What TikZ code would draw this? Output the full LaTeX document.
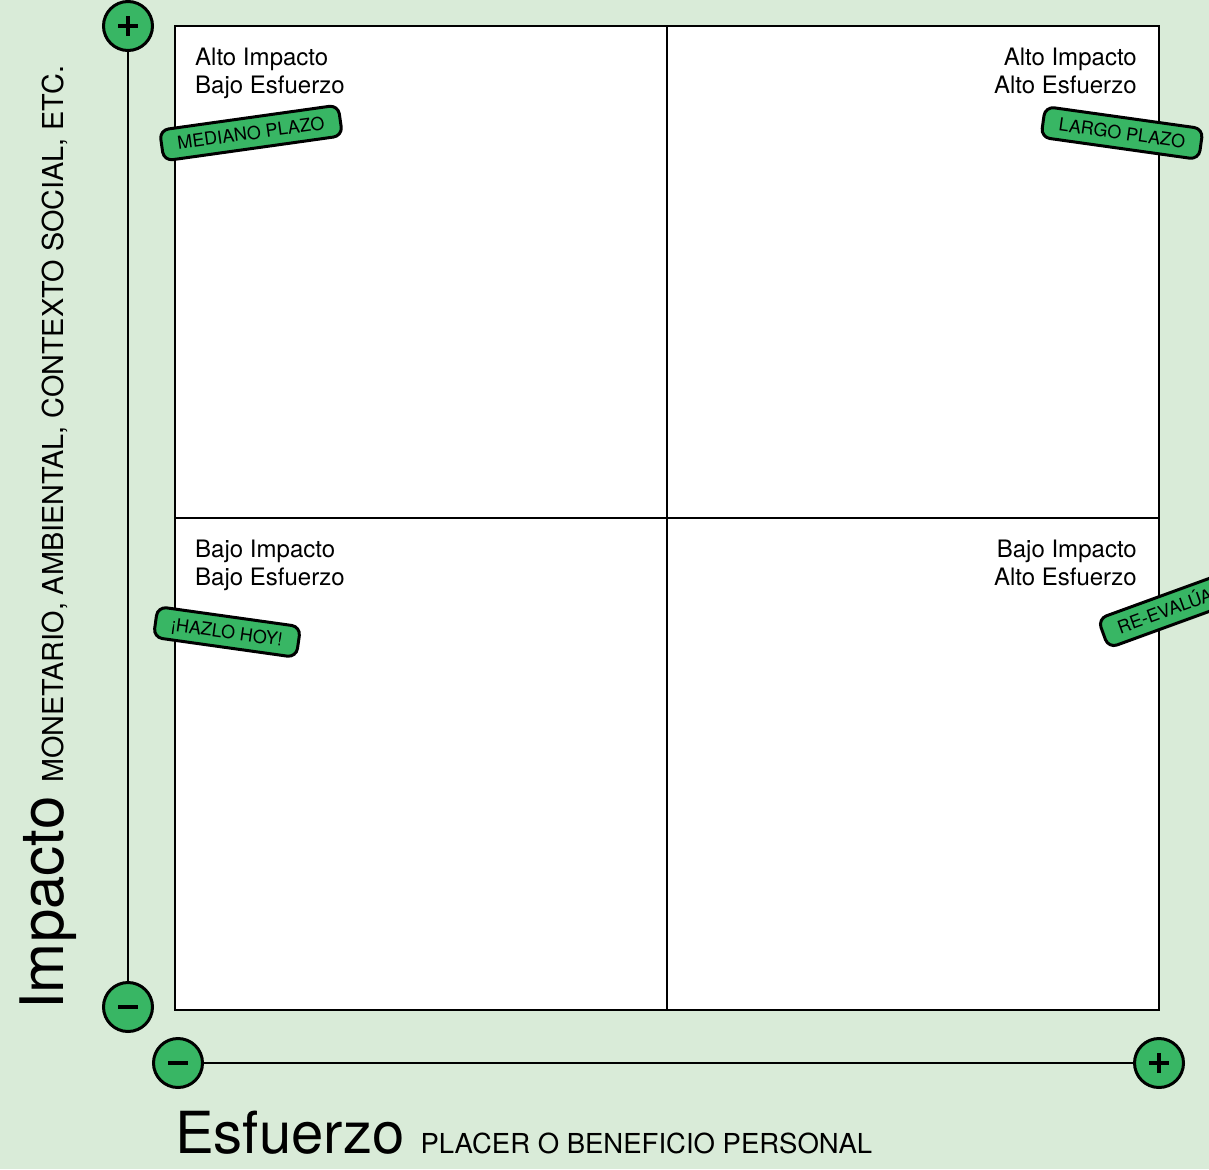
\documentclass[tikz,border=0pt]{standalone}
\usepackage{fontspec}
\setmainfont{TeX Gyre Heros}
\usetikzlibrary{positioning}

\definecolor{sage}{HTML}{D9EBD8}
\definecolor{leaf}{HTML}{38B664}

\tikzset{
	knob/.style={circle, draw, line width=3pt, fill=leaf, minimum size=49pt, inner sep=0pt},
	plusknob/.style={knob, path picture={
		\draw[line width=4pt] ([xshift=-10pt]path picture bounding box.center) -- ([xshift=10pt]path picture bounding box.center)
			([yshift=-10pt]path picture bounding box.center) -- ([yshift=10pt]path picture bounding box.center);}},
	minusknob/.style={knob, path picture={
		\draw[line width=4pt] ([xshift=-10pt]path picture bounding box.center) -- ([xshift=10pt]path picture bounding box.center);}},
	axis/.style={line width=2.5pt},
	grid/.style={line width=2.5pt},
	quad/.style={inner sep=0pt, font=\fontsize{24}{28}\selectfont},
	tag/.style={draw, line width=3pt, fill=leaf, rounded corners=9pt, inner xsep=16pt, inner ysep=0pt,
		minimum height=31pt, text height=13pt, text depth=0pt, font=\fontsize{18}{18}\selectfont},
	title/.style={inner sep=0pt, font=\fontsize{58}{58}\selectfont}
}
\newcommand{\subtitle}[2]{{\fontsize{#1}{#1}\selectfont #2}}

\begin{document}
\begin{tikzpicture}[x=1pt, y=-1pt]
	\useasboundingbox (0,0) rectangle (1209,1169);
	\clip (0,0) rectangle (1209,1169);
	\fill[sage] (0,0) rectangle (1209,1169);

	% matrix of four quadrants
	\coordinate (nw) at (175,26); \coordinate (se) at (1159,1010); \coordinate (c) at (667,518);
	\fill[white] (nw) rectangle (se);
	\draw[grid] (c |- nw) -- (c |- se);
	\draw[grid] (c -| nw) -- (c -| se);
	\draw[grid] (nw) rectangle (se);

	% axes with their end knobs
	\node[plusknob] (ymas) at (128,26) {};
	\node[minusknob] (ymenos) at (128,1007) {};
	\node[minusknob] (xmenos) at (178,1063) {};
	\node[plusknob] (xmas) at (1159,1063) {};
	\draw[axis] (ymas) -- (ymenos);
	\draw[axis] (xmenos) -- (xmas);

	% axis titles
	\node[title, rotate=90, anchor=base west] (impacto) at (63,1010)
		{\fontsize{60}{60}\selectfont Impacto\hspace{14pt}\subtitle{28.8}{MONETARIO, AMBIENTAL, CONTEXTO SOCIAL, ETC.}};
	\node[title, anchor=base west] (esfuerzo) at (175,1153)
		{Esfuerzo\hspace{16pt}\subtitle{27.5}{PLACER O BENEFICIO PERSONAL}};

	% quadrant labels
	\node[quad, align=left, anchor=north west] (q1) at (195,48) {Alto Impacto\\Bajo Esfuerzo};
	\node[quad, align=right, anchor=north east] (q2) at (1137,48) {Alto Impacto\\Alto Esfuerzo};
	\node[quad, align=left, anchor=north west] (q3) at (195,540) {Bajo Impacto\\Bajo Esfuerzo};
	\node[quad, align=right, anchor=north east] (q4) at (1137,540) {Bajo Impacto\\Alto Esfuerzo};

	% stickers
	\node[tag, rotate=8] (mediano) at (251,133) {MEDIANO PLAZO};
	\node[tag, rotate=-8] (largo) at (1122,133) {LARGO PLAZO};
	\node[tag, rotate=-8] (hoy) at (227,632) {¡HAZLO HOY!};
	\node[tag, rotate=20] (reevalua) at (1165,611) {RE-EVALÚA};
\end{tikzpicture}
\end{document}
